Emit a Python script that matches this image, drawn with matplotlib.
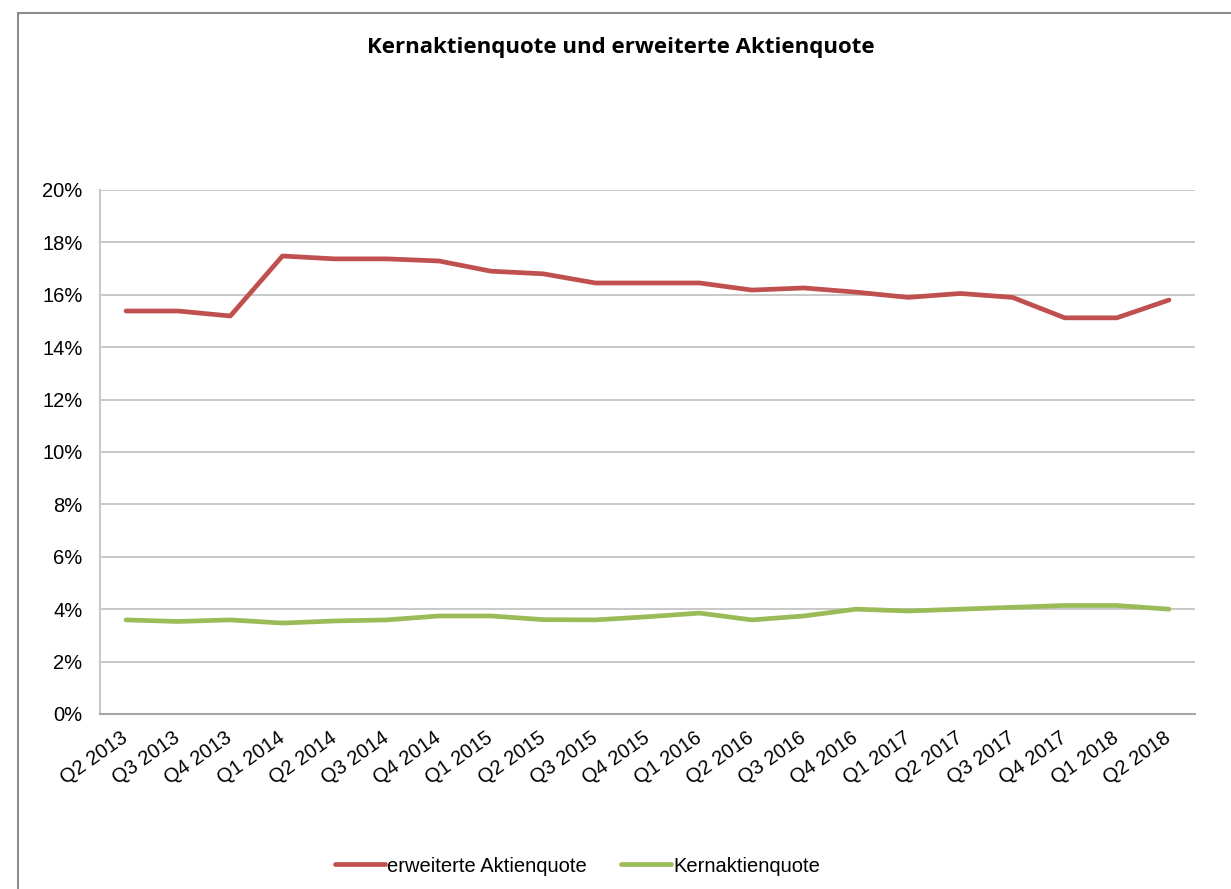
import matplotlib
matplotlib.use('Agg')
import matplotlib.pyplot as plt
from matplotlib.patches import Rectangle
from matplotlib.ticker import FuncFormatter

quartale = ['Q2 2013', 'Q3 2013', 'Q4 2013', 'Q1 2014', 'Q2 2014', 'Q3 2014', 'Q4 2014',
            'Q1 2015', 'Q2 2015', 'Q3 2015', 'Q4 2015', 'Q1 2016', 'Q2 2016', 'Q3 2016',
            'Q4 2016', 'Q1 2017', 'Q2 2017', 'Q3 2017', 'Q4 2017', 'Q1 2018', 'Q2 2018']

erweitert = [15.38, 15.38, 15.19, 17.48, 17.37, 17.37, 17.29, 16.90, 16.80, 16.45, 16.45,
             16.45, 16.18, 16.26, 16.10, 15.90, 16.05, 15.90, 15.12, 15.12, 15.80]
kern = [3.59, 3.53, 3.59, 3.47, 3.55, 3.59, 3.74, 3.74, 3.60, 3.59, 3.71,
        3.85, 3.59, 3.74, 4.00, 3.93, 4.00, 4.07, 4.14, 4.14, 4.00]

plt.rcParams['font.family'] = ['Liberation Sans', 'DejaVu Sans']

fig = plt.figure(figsize=(12.31, 8.89), dpi=100)
ax = fig.add_axes([0.0812, 0.1969, 0.8896, 0.5894])

# Rahmen um das Diagramm
fig.patches.append(Rectangle((18 / 1231, -0.05), 1.1, 1 - 13 / 889 + 0.05,
                             transform=fig.transFigure, fill=False,
                             edgecolor='#8c8c8c', linewidth=1.5))

x = list(range(len(quartale)))
ax.plot(x, erweitert, color='#c0504d', linewidth=3.4, solid_capstyle='round',
        label='erweiterte Aktienquote')
ax.plot(x, kern, color='#9bbb59', linewidth=3.4, solid_capstyle='round',
        label='Kernaktienquote')

ax.set_xlim(-0.5, len(quartale) - 0.5)
ax.set_ylim(0, 20)
ax.set_yticks(range(0, 21, 2))
ax.yaxis.set_major_formatter(FuncFormatter(lambda v, p: f'{int(v)}%'))
ax.set_xticks(x)
ax.set_xticklabels(quartale, rotation=35, ha='right', va='center', rotation_mode='anchor')
ax.tick_params(axis='both', labelsize=14.5, colors='#000000', length=0)
ax.tick_params(axis='y', pad=12.5)
ax.tick_params(axis='x', pad=16)

ax.grid(axis='y', color='#bfbfbf', linewidth=1.2)
ax.set_axisbelow(True)
for s in ['top', 'right']:
    ax.spines[s].set_visible(False)
ax.spines['left'].set_color('#c8c8c8')
ax.spines['bottom'].set_color('#a6a6a6')
ax.spines['left'].set_linewidth(1.5)
ax.spines['bottom'].set_linewidth(1.5)

fig.text(0.504, 1 - 47 / 889, 'Kernaktienquote und erweiterte Aktienquote',
         ha='center', va='center', fontsize=16, fontweight='bold',
         family=['Open Sans', 'DejaVu Sans'])

fig.legend(loc='center', bbox_to_anchor=(0.469, 1 - 866 / 889), ncol=2, frameon=False,
           fontsize=14.5, handlelength=2.5, handletextpad=0.1, columnspacing=1.7)

fig.savefig('out.png', dpi=100)
